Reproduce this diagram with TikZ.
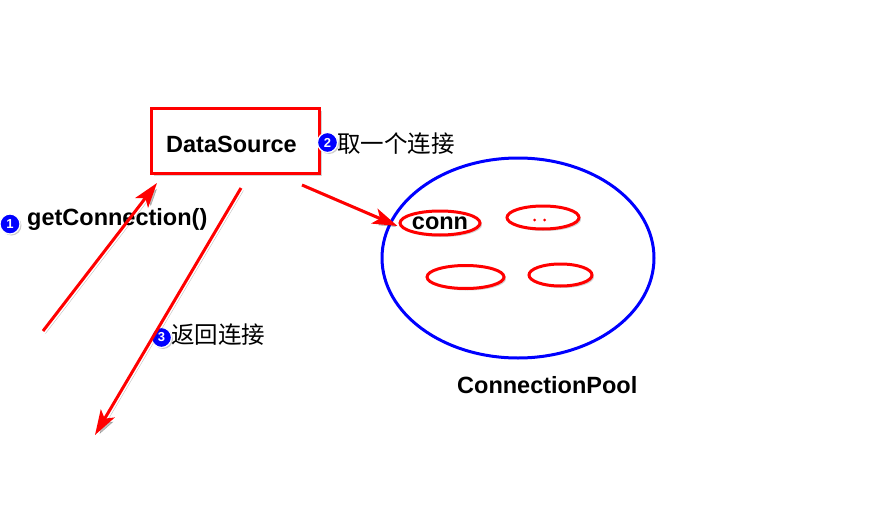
\documentclass[tikz,border=0pt]{standalone}
\usepackage{fontspec}
\setmainfont{Liberation Sans}
\newfontfamily\cjk{Noto Sans CJK SC}
\usetikzlibrary{arrows.meta,shadows,shapes.geometric}
\begin{document}
\begin{tikzpicture}[x=1pt,y=-1pt,
  bigfont/.style={font=\fontsize{23.5}{28}\selectfont\bfseries},
  cjkfont/.style={font=\fontsize{23.5}{28}\selectfont\cjk},
  redbox/.style={draw=red,line width=3.2pt,fill=white,drop shadow={opacity=0.35,shadow xshift=2.5pt,shadow yshift=-2.5pt}},
  connell/.style={ellipse,draw=red,line width=3pt,fill=white,inner sep=0pt,drop shadow={opacity=0.35,shadow xshift=2pt,shadow yshift=-2pt}},
  pool/.style={ellipse,draw=blue,line width=3pt,inner sep=0pt},
  numdot/.style={circle,fill=blue,draw=white,line width=1.2pt,minimum size=20pt,inner sep=0pt,text=white,font=\fontsize{13}{13}\selectfont\bfseries,drop shadow={opacity=0.4,shadow xshift=1.5pt,shadow yshift=-1.5pt}},
  redarrow/.style={draw=red,line width=3pt,-{Stealth[length=25pt,width=16pt,inset=6pt]},
     preaction={draw=black,opacity=0.25,transform canvas={shift={(2.5,2.5)}}}},
  lbl/.style={inner sep=0pt}]
\useasboundingbox (0,0) rectangle (873,506);

% DataSource box
\node[redbox,minimum width=168pt,minimum height=65pt] (ds) at (235.5,141) {};
\node[lbl,bigfont,anchor=base west] (dstxt) at (166,152) {DataSource};

% connection pool
\node[pool,minimum width=272pt,minimum height=200pt] (pool) at (518,258) {};
\node[lbl,bigfont,anchor=base west] (pooltxt) at (457,393) {ConnectionPool};

\node[connell,minimum width=80pt,minimum height=24pt,bigfont] (conn) at (440,223) {conn};
\node[connell,minimum width=72pt,minimum height=23pt] (c2) at (543,217.5) {};
\node[connell,minimum width=77pt,minimum height=23pt] (c3) at (465.5,277) {};
\node[connell,minimum width=63pt,minimum height=22pt] (c4) at (560.5,275) {};
\fill[red] (534.5,220) circle (1.5pt) (544.5,220) circle (1.5pt);

% labels
\node[numdot] (n1) at (10,224) {1};
\node[lbl,bigfont,anchor=base west] (getc) at (27,225) {getConnection()};
\node[numdot] (n2) at (327.5,142.5) {2};
\node[lbl,cjkfont,anchor=west] (take) at (337,144) {取一个连接};
\node[numdot] (n3) at (161.5,337.5) {3};
\node[lbl,cjkfont,anchor=west] (ret) at (171,335) {返回连接};

% arrows
\coordinate (a1s) at (43,331);
\coordinate (a1e) at (157,183);
\coordinate (a2s) at (241,188);
\coordinate (a2e) at (95,435);
\coordinate (a3s) at (302,185);
\draw[redarrow] (a1s) -- (a1e);
\draw[redarrow] (a2s) -- (a2e);
\draw[redarrow] (a3s) -- ([xshift=-1pt,yshift=-3pt]conn.west);
\end{tikzpicture}
\end{document}
